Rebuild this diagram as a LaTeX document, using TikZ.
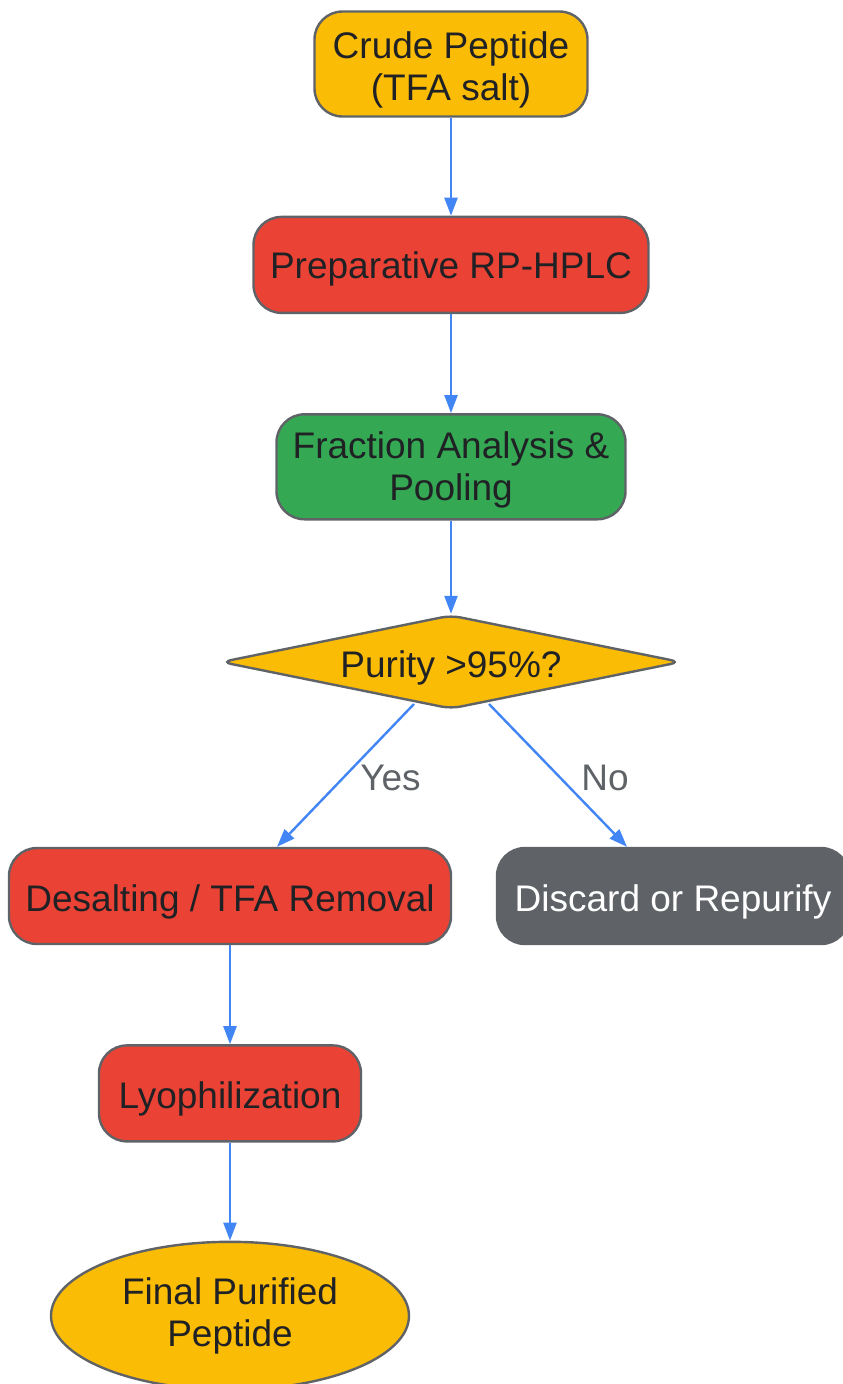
\documentclass[tikz,border=0pt]{standalone}
\usepackage{fontspec}
\setmainfont{Liberation Sans}
\usetikzlibrary{shapes.geometric,arrows.meta,positioning}

\definecolor{gyellow}{HTML}{FBBC05}
\definecolor{gred}{HTML}{EA4335}
\definecolor{ggreen}{HTML}{34A853}
\definecolor{ggray}{HTML}{5F6368}
\definecolor{gblue}{HTML}{4285F4}
\definecolor{gtext}{HTML}{202124}

\newcommand{\toplift}{\rule{0pt}{38pt}}

\begin{document}
\begin{tikzpicture}[x=1pt, y=-1pt,
  font=\fontsize{37}{42}\selectfont,
  box/.style={draw=ggray, line width=2.4pt, rectangle, rounded corners=28pt, align=center, text=gtext, inner sep=0pt},
  flow/.style={-{Triangle[length=18pt, width=13pt]}, gblue, line width=2.4pt},
  lbl/.style={text=ggray, inner sep=2pt}]
\useasboundingbox (0,0) rectangle (843,1384);

% Eingang
\node[box, fill=gyellow, minimum width=273pt, minimum height=105pt] (crude) at (451,64)
{\toplift Crude Peptide\\(TFA salt)};

% Reinigung
\node[box, fill=gred, minimum width=395pt, minimum height=96pt, below=98pt of crude] (hplc)
{\rule{0pt}{34pt}Preparative RP-HPLC};

% Analyse
\node[box, fill=ggreen, minimum width=349pt, minimum height=105pt, below=99pt of hplc] (pool)
{\rule{0pt}{34pt}Fraction Analysis \&\\Pooling};

% Entscheidung
\node[draw=ggray, line width=2.4pt, diamond, aspect=5, fill=gyellow, text=gtext, rounded corners=10pt,
  minimum width=460pt, minimum height=94pt, inner sep=0pt] (purity) at (451,662)
{\toplift Purity >95\%?};

% Zweige
\node[box, fill=gred, minimum width=442pt, minimum height=96pt] (desalt) at (230,896)
{\toplift Desalting / TFA Removal};
\node[box, fill=ggray, text=white, minimum width=352pt, minimum height=96pt] (discard) at (673,896)
{\toplift Discard or Repurify};

% Trocknung
\node[box, fill=gred, minimum width=262pt, minimum height=96pt, below=99pt of desalt] (lyo)
{\toplift Lyophilization};

% Produkt
\node[draw=ggray, line width=2.4pt, ellipse, fill=gyellow, text=gtext, align=center,
  minimum width=358pt, minimum height=148pt, inner sep=0pt, below=98pt of lyo] (final)
{Final Purified\\Peptide};

% Verbindungen
\draw[flow] (crude) -- (hplc);
\draw[flow] (hplc) -- (pool);
\draw[flow] (pool) -- (purity);
\draw[flow] (414,704) -- node[lbl, pos=0.5, xshift=45pt, yshift=-3pt] {Yes} (desalt.north -| 277,0);
\draw[flow] (489,704) -- node[lbl, pos=0.5, xshift=47pt, yshift=-3pt] {No} (discard.north -| 627,0);
\draw[flow] (desalt) -- (lyo);
\draw[flow] (lyo) -- (final);
\end{tikzpicture}
\end{document}
